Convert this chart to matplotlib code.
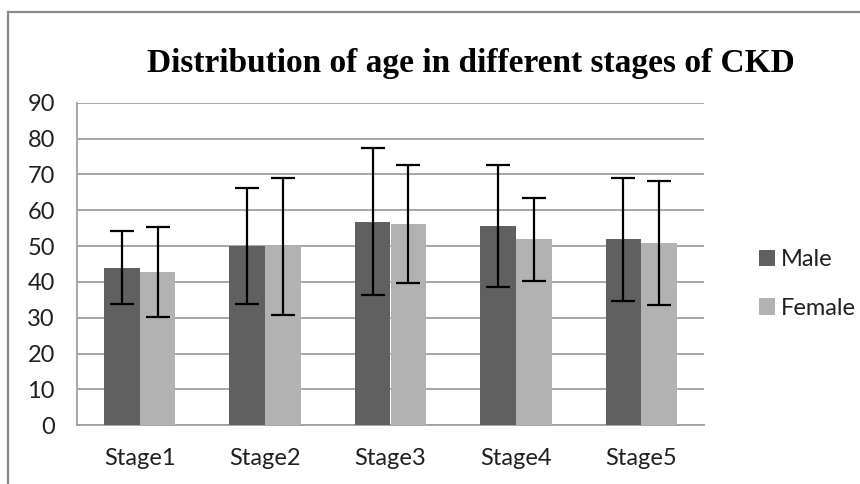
import matplotlib
matplotlib.use("Agg")
import matplotlib.pyplot as plt
from matplotlib.lines import Line2D
from matplotlib.patches import Patch
import numpy as np

categories = ["Stage1", "Stage2", "Stage3", "Stage4", "Stage5"]
male_mean = [44.0, 50.0, 56.8, 55.5, 51.9]
male_sd = [10.2, 16.2, 20.5, 17.0, 17.1]
female_mean = [42.8, 50.0, 56.1, 51.9, 50.8]
female_sd = [12.5, 19.1, 16.4, 11.6, 17.3]
yticks = [0, 10, 20, 30, 40, 50, 60, 70, 80, 90]

W, H = 860, 484
fig = plt.figure(figsize=(W / 100, H / 100), dpi=100)
fig.patch.set_facecolor("white")

ax = fig.add_axes([77 / W, 1 - 425.3 / H, (704 - 77) / W, (425.3 - 102.7) / H])

x = np.arange(len(categories))
bw = 0.284
male_c = "#606060"
female_c = "#b2b2b2"
ekw = dict(ecolor="black", elinewidth=1.6, capsize=8.5, capthick=1.6, zorder=4)
ax.bar(x - bw / 2, male_mean, bw, color=male_c, zorder=3, yerr=male_sd, error_kw=ekw)
ax.bar(x + bw / 2, female_mean, bw, color=female_c, zorder=3, yerr=female_sd, error_kw=ekw)

ax.set_xlim(-0.5, len(categories) - 0.5)
ax.set_ylim(0, 90)
ax.set_yticks(yticks)
ax.set_xticks(x)
ax.set_xticklabels(categories)

grid_c = "#a0a0a0"
ax.yaxis.grid(True, color=grid_c, linewidth=1.3, zorder=0)
ax.set_axisbelow(True)
for s in ["top", "right"]:
    ax.spines[s].set_visible(False)
for s in ["left", "bottom"]:
    ax.spines[s].set_color(grid_c)
    ax.spines[s].set_linewidth(1.3)
ax.tick_params(axis="both", length=0, labelsize=17, colors="#202020")
ax.tick_params(axis="y", pad=16)
ax.tick_params(axis="x", pad=16)
for lab in ax.get_xticklabels() + ax.get_yticklabels():
    lab.set_fontfamily("Lato")

# Title
fig.text(470.5 / W, 1 - 63 / H, "Distribution of age in different stages of CKD",
         ha="center", va="center", fontsize=24, fontweight="bold",
         family="Liberation Serif", color="black")

# Legend
handles = [Patch(facecolor=male_c, edgecolor="none"), Patch(facecolor=female_c, edgecolor="none")]
leg = fig.legend(handles, ["Male", "Female"], loc="center left",
                 bbox_to_anchor=(747 / W, 1 - 284 / H), frameon=False,
                 prop={"family": "Lato", "size": 17}, handlelength=0.68, handleheight=0.68,
                 handletextpad=0.27, labelspacing=1.17, borderpad=0)
for t in leg.get_texts():
    t.set_color("#202020")

# Outer chart frame
frame_c = "#8a8a8a"
fig.add_artist(Line2D([8 / W, 8 / W], [0, 1 - 12 / H], transform=fig.transFigure,
                      color=frame_c, linewidth=1.6))
fig.add_artist(Line2D([8 / W, 1], [1 - 12 / H, 1 - 12 / H], transform=fig.transFigure,
                      color=frame_c, linewidth=1.6))

fig.savefig("out.png", dpi=100, facecolor="white")
